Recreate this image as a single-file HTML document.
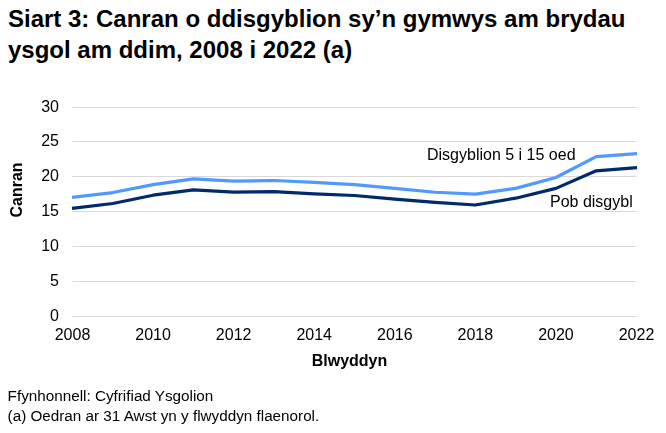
<!DOCTYPE html>
<html><head><meta charset="utf-8"><style>
html,body{margin:0;padding:0;background:#fff;width:666px;height:433px;overflow:hidden}
svg{display:block;position:absolute;left:0;top:0;font-family:"Liberation Sans",sans-serif}
#chart{will-change:transform}
</style></head><body>
<svg width="666" height="433" viewBox="0 0 666 433">
<rect width="666" height="433" fill="#fff"/>
<g font-weight="bold" font-size="24" fill="#000">
<text x="8" y="26.7">Siart 3: Canran o ddisgyblion sy’n gymwys am brydau</text>
<text x="8" y="57.5">ysgol am ddim, 2008 i 2022 (a)</text>
</g>
</svg>
<svg id="chart" width="666" height="433" viewBox="0 0 666 433">
<g stroke="#d9d9d9" stroke-width="1"><line x1="72.3" x2="636.5" y1="107.5" y2="107.5"/><line x1="72.3" x2="636.5" y1="141.5" y2="141.5"/><line x1="72.3" x2="636.5" y1="176.5" y2="176.5"/><line x1="72.3" x2="636.5" y1="211.5" y2="211.5"/><line x1="72.3" x2="636.5" y1="246.5" y2="246.5"/><line x1="72.3" x2="636.5" y1="281.5" y2="281.5"/><line x1="72.3" x2="636.5" y1="316.5" y2="316.5"/></g>
<g font-size="16" fill="#000"><text x="59" y="112.00" text-anchor="end">30</text><text x="59" y="146.00" text-anchor="end">25</text><text x="59" y="181.00" text-anchor="end">20</text><text x="59" y="216.00" text-anchor="end">15</text><text x="59" y="251.00" text-anchor="end">10</text><text x="59" y="286.00" text-anchor="end">5</text><text x="59" y="321.00" text-anchor="end">0</text><text x="72.50" y="339.8" text-anchor="middle">2008</text><text x="153.07" y="339.8" text-anchor="middle">2010</text><text x="233.64" y="339.8" text-anchor="middle">2012</text><text x="314.21" y="339.8" text-anchor="middle">2014</text><text x="394.79" y="339.8" text-anchor="middle">2016</text><text x="475.36" y="339.8" text-anchor="middle">2018</text><text x="555.93" y="339.8" text-anchor="middle">2020</text><text x="636.50" y="339.8" text-anchor="middle">2022</text></g>
<polyline fill="none" stroke="#5199ff" stroke-width="3.2" stroke-linejoin="round" points="72.00,197.36 112.79,192.55 153.07,184.60 193.36,178.80 233.64,181.20 273.93,180.50 314.21,182.30 354.50,184.60 394.79,188.30 435.07,192.23 475.36,194.14 515.64,188.34 555.93,177.47 596.21,156.60 637.00,153.66"/>
<polyline fill="none" stroke="#002a6c" stroke-width="3.2" stroke-linejoin="round" points="72.00,208.42 112.79,203.50 153.07,195.20 193.36,189.80 233.64,192.10 273.93,191.55 314.21,193.90 354.50,195.50 394.79,199.15 435.07,202.28 475.36,205.00 515.64,198.20 555.93,188.35 596.21,170.80 637.00,167.66"/>
<g font-size="16" fill="#000">
<text x="427" y="160.4">Disgyblion 5 i 15 oed</text>
<text x="550" y="207.2">Pob disgybl</text>
</g>
<g font-size="16" font-weight="bold" fill="#000">
<text x="349.5" y="365.6" text-anchor="middle">Blwyddyn</text>
<text transform="translate(22.0,190) rotate(-90)" text-anchor="middle">Canran</text>
</g>
<g font-size="15.25" fill="#000">
<text x="7.6" y="400.9">Ffynhonnell: Cyfrifiad Ysgolion</text>
<text x="7.6" y="421.2">(a) Oedran ar 31 Awst yn y flwyddyn flaenorol.</text>
</g>
</svg>
</body></html>
